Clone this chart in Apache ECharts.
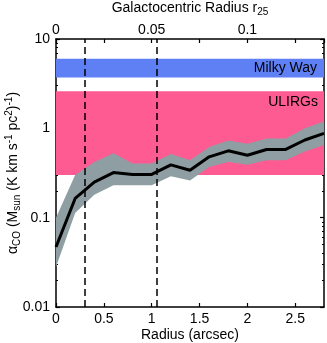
<!DOCTYPE html>
<html>
<head>
<meta charset="utf-8">
<script src="https://cdn.jsdelivr.net/npm/echarts@6/dist/echarts.min.js"></script>
<style>
  html, body { margin: 0; padding: 0; background: #fff; }
  #main { width: 327px; height: 343px; }
</style>
</head>
<body>
<div id="main"></div>
<script>
// radius in arcsec
var radius = [0, 0.2, 0.4, 0.6, 0.8, 1.0, 1.2, 1.4, 1.6, 1.8, 2.0, 2.2, 2.4, 2.6, 2.8];
var alphaCO = [0.047, 0.164, 0.25, 0.32, 0.305, 0.305, 0.39, 0.34, 0.48, 0.56, 0.50, 0.58, 0.58, 0.74, 0.88];
var alphaUpper = [0.10, 0.30, 0.42, 0.525, 0.405, 0.405, 0.515, 0.44, 0.62, 0.73, 0.67, 0.77, 0.77, 1.0, 1.19];
var alphaLower = [0.028, 0.113, 0.18, 0.23, 0.23, 0.23, 0.29, 0.26, 0.37, 0.42, 0.39, 0.44, 0.44, 0.55, 0.65];
var milkyWay = [3.7, 6.0];
var ulirgs = [0.3, 2.6];
var dashedAt = [0.3, 1.05];
var topTicks = { 0: '0', 1: '0.05', 2: '0.1' };

var dom = document.getElementById('main');
var myChart = echarts.init(dom, null, { renderer: 'canvas' });

var font = 'Liberation Sans, Arial, sans-serif';
var axisCommon = {
  nameMoveOverlap: false,
  axisLine: { show: true, onZero: false, lineStyle: { color: '#000', width: 1.5 } },
  axisTick: { show: true, inside: true, length: 4, lineStyle: { color: '#000', width: 1.2 } },
  splitLine: { show: false }
};

var option = {
  animation: false,
  grid: { left: 56, right: 3, top: 39, bottom: 36, containLabel: false, outerBoundsMode: 'none' },
  xAxis: [
    Object.assign({
      type: 'value', min: 0, max: 2.8, interval: 0.5, position: 'bottom',
      name: 'Radius (arcsec)', nameLocation: 'middle', nameGap: 21,
      nameTextStyle: { color: '#000', fontSize: 14, fontFamily: font },
      axisLabel: {
        color: '#000', fontSize: 14, fontFamily: font, margin: 5,
        showMaxLabel: false,
        formatter: function (v) { return String(v); }
      }
    }, axisCommon),
    Object.assign({
      type: 'value', min: 0, max: 2.8, interval: 0.5, position: 'top',
      name: '{b|Galactocentric Radius r}{sub|25}', nameLocation: 'middle', nameGap: 22,
      nameTextStyle: {
        rich: {
          b: { color: '#000', fontSize: 14, fontFamily: font, lineHeight: 18, verticalAlign: 'middle' },
          sub: { color: '#000', fontSize: 10, fontFamily: font, lineHeight: 18, verticalAlign: 'bottom' }
        }
      },
      axisLabel: {
        color: '#000', fontSize: 14, fontFamily: font, margin: 2,
        formatter: function (v) { return topTicks[v] || ''; }
      }
    }, axisCommon)
  ],
  yAxis: [
    Object.assign({
      type: 'log', min: 0.01, max: 10, logBase: 10, position: 'left',
      name: '{a|α}{sub|CO}{a| (M}{sub|sun}{a| (K km s}{sup|-1}{a| pc}{sup|2}{a|)}{sup|-1}{a|)}',
      nameLocation: 'middle', nameGap: 34, nameRotate: 90,
      nameTextStyle: {
        rich: {
          a: { color: '#000', fontSize: 14, fontFamily: font, lineHeight: 18, verticalAlign: 'middle' },
          sub: { color: '#000', fontSize: 10, fontFamily: font, lineHeight: 18, verticalAlign: 'bottom' },
          sup: { color: '#000', fontSize: 10, fontFamily: font, lineHeight: 18, verticalAlign: 'top' }
        }
      },
      minorTick: { show: true, splitNumber: 9, length: 2, lineStyle: { color: '#000' } },
      axisLabel: {
        color: '#000', fontSize: 14, fontFamily: font, margin: 6,
        formatter: function (v) { return String(v); }
      }
    }, axisCommon),
    Object.assign({
      type: 'log', min: 0.01, max: 10, logBase: 10, position: 'right',
      minorTick: { show: true, splitNumber: 9, length: 2, lineStyle: { color: '#000' } },
      axisLabel: { show: false }
    }, axisCommon)
  ],
  series: [
    {
      type: 'line',
      data: [],
      silent: true,
      markArea: {
        silent: true,
        data: [
          [{ yAxis: milkyWay[0], itemStyle: { color: '#5f7ff5' },
             label: { show: true, position: 'insideRight', formatter: 'Milky Way', color: '#000', fontSize: 14, fontFamily: font, offset: [-2, 0] } },
           { yAxis: milkyWay[1] }],
          [{ yAxis: ulirgs[0], itemStyle: { color: '#ff5b93' },
             label: { show: true, position: 'insideTopRight', formatter: 'ULIRGs', color: '#000', fontSize: 14, fontFamily: font, distance: 4, offset: [-2, 0] } },
           { yAxis: ulirgs[1] }]
        ]
      }
    },
    {
      type: 'custom',
      silent: true,
      data: [0],
      renderItem: function (params, api) {
        var pts = [];
        for (var i = 0; i < radius.length; i++) pts.push(api.coord([radius[i], alphaUpper[i]]));
        for (var j = radius.length - 1; j >= 0; j--) pts.push(api.coord([radius[j], alphaLower[j]]));
        return {
          type: 'polygon',
          shape: { points: pts },
          style: { fill: '#8e9ea2', stroke: null }
        };
      },
      z: 3
    },
    {
      type: 'line',
      data: radius.map(function (r, i) { return [r, alphaCO[i]]; }),
      symbol: 'none',
      lineStyle: { color: '#000', width: 3 },
      z: 4,
      markLine: {
        silent: true,
        symbol: ['none', 'none'],
        label: { show: false },
        lineStyle: { color: '#000', type: [7, 4], width: 1.5 },
        data: dashedAt.map(function (x) { return { xAxis: x }; })
      }
    }
  ]
};

myChart.setOption(option);
window.addEventListener('resize', myChart.resize);
</script>
</body>
</html>
